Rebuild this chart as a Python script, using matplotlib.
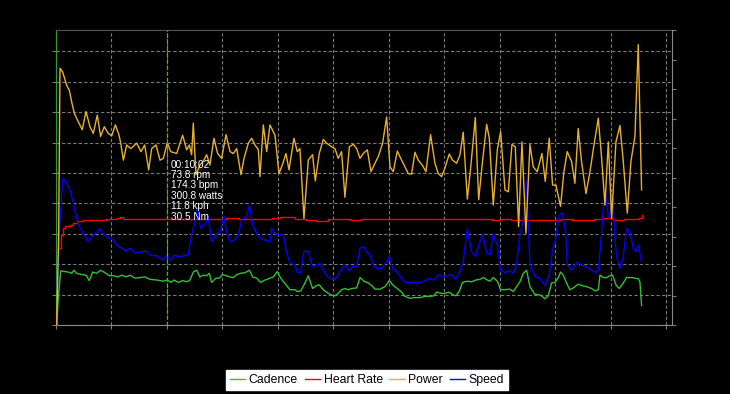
import matplotlib
matplotlib.use("Agg")
import matplotlib.pyplot as plt
from matplotlib.lines import Line2D

# time in minutes
power_t = [0.06, 0.24, 0.36, 0.60, 0.96, 1.20, 1.41, 1.65, 2.01, 2.37, 2.70, 3.06, 3.36, 3.72,
           4.02, 4.35, 4.71, 5.02, 5.35, 5.68, 5.83, 6.07, 6.37, 6.73, 7.27, 7.66, 7.99, 8.35,
           8.62, 9.01, 9.37, 9.67, 10.03, 10.33, 10.87, 11.41, 11.77, 12.01, 12.22, 12.37,
           12.61, 12.97, 13.27, 13.57, 13.87, 14.23, 14.56, 14.92, 15.32, 15.68, 15.98, 16.28,
           16.67, 16.94, 17.33, 17.63, 17.93, 18.23, 18.38, 18.68, 18.98, 19.28, 19.73, 20.09,
           20.39, 20.72, 20.99, 21.44, 21.74, 21.98, 22.34, 22.73, 23.12, 23.36, 23.72, 24.08,
           24.38, 24.83, 25.13, 25.43, 25.73, 26.03, 26.43, 26.79, 27.09, 27.39, 27.69, 28.05,
           28.38, 28.74, 29.04, 29.43, 29.79, 30.09, 30.39, 30.75, 31.14, 31.44, 31.74, 32.04,
           32.34, 32.64, 33.03, 33.33, 33.75, 34.14, 34.44, 34.74, 35.04, 35.43, 35.73, 36.09,
           36.39, 36.69, 37.06, 37.36, 37.78, 38.08, 38.44, 38.80, 39.04, 39.40, 39.76, 40.06,
           40.45, 40.75, 41.08, 41.38, 41.68, 41.98, 42.34, 42.70, 43.00, 43.36, 43.78, 44.08,
           44.44, 44.74, 45.04, 45.46, 45.76, 46.06, 46.45, 46.75, 47.05, 47.35, 47.75, 48.11,
           48.47, 48.86, 49.16, 49.46, 49.76, 50.06, 50.45, 50.81, 51.11, 51.47, 51.80, 52.16,
           52.46, 52.76]
power = [0, 148, 422, 416, 394, 386, 367, 348, 334, 321, 351, 326, 315, 345,
         310, 326, 315, 311, 329, 312, 299, 271, 296, 290, 299, 285, 296, 255,
         290, 296, 271, 274, 300, 285, 282, 312, 288, 296, 280, 332,
         247, 263, 269, 280, 263, 307, 282, 274, 313, 285, 282, 290,
         247, 274, 299, 307, 296, 288, 244, 329, 285, 329, 312, 249,
         263, 282, 255, 307, 285, 290, 175, 271, 280, 237, 282, 305,
         299, 293, 290, 274, 285, 210, 293, 297, 290, 274, 282, 288,
         252, 266, 277, 299, 342, 260, 252, 286, 271, 260, 249, 248,
         284, 271, 262, 252, 313, 266, 249, 244, 258, 281, 271, 266,
         279, 317, 207, 258, 341, 206, 271, 330, 307, 197, 288, 318,
         222, 219, 297, 293, 162, 301, 151, 297, 260, 252, 282, 236,
         307, 230, 230, 195, 252, 285, 269, 233, 323, 269, 216, 252,
         296, 340, 274, 197, 301, 175, 301, 328, 269, 184, 269, 310,
         461, 222]

hr_t = [0.30, 0.42, 0.60, 0.81, 1.26, 1.56, 1.86, 2.46, 3.5, 4.5, 5.47, 5.77, 6.07, 7.5, 9.0,
        10.03, 11.5, 13.0, 15.3, 16.5, 18.0, 19.5, 20.2, 21.5, 22.5, 23.4, 24.5, 25.5, 26.5,
        27.5, 28.5, 29.8, 30.5, 31.5, 33.0, 34.5, 35.5, 36.8, 37.5, 38.5, 39.3, 40.0, 41.0,
        42.0, 43.0, 44.5, 45.5, 46.5, 47.5, 48.5, 49.3, 50.2, 51.2, 52.0, 52.5, 52.76]
hr = [126, 148, 159, 162, 165, 167, 171, 172, 173, 174, 176, 177, 175, 175, 174.5,
      174.3, 174, 175, 176, 175, 175, 176, 177, 174, 173, 171, 174, 175, 173,
      174, 175, 175, 175, 174, 174, 175, 175, 174, 175, 174, 172, 174, 173,
      173, 172, 172, 175, 173, 173, 174, 176, 173, 174, 174, 176, 181]

speed_t = [0.12, 0.36, 0.60, 0.90, 1.32, 1.62, 2.01, 2.46, 2.91, 3.36, 3.72, 3.96, 4.26, 4.71,
           5.17, 5.47, 5.92, 6.31, 6.67, 7.12, 7.57, 8.17, 8.47, 9.07, 9.67, 10.03, 10.33,
           10.63, 11.17, 11.92, 12.22, 12.52, 12.73, 13.03, 13.42, 13.72, 14.02, 14.41, 14.77,
           15.13, 15.38, 15.68, 16.04, 16.43, 16.73, 17.18, 17.42, 17.72, 18.14, 18.44, 18.83,
           19.28, 19.43, 19.73, 20.03, 20.48, 20.78, 21.08, 21.53, 21.74, 22.04, 22.34, 22.73,
           23.12, 23.48, 23.78, 24.08, 24.44, 24.83, 25.13, 25.43, 25.88, 26.12, 26.43, 26.73,
           27.09, 27.39, 27.69, 28.05, 28.29, 28.59, 28.95, 29.34, 29.79, 30.03, 30.33, 30.69,
           31.14, 31.44, 31.74, 32.04, 32.34, 32.79, 33.24, 33.69, 34.05, 34.44, 34.89, 35.34,
           35.55, 36.03, 36.39, 36.69, 37.06, 37.45, 37.78, 38.14, 38.44, 38.80, 39.10, 39.40,
           39.76, 40.06, 40.45, 40.84, 41.20, 41.50, 41.80, 42.10, 42.40, 42.70, 43.15, 43.60,
           44.05, 44.44, 44.74, 45.04, 45.34, 45.64, 45.94, 46.06, 46.45, 46.75, 47.05, 47.35,
           47.80, 48.26, 48.56, 48.86, 49.07, 49.31, 49.55, 49.76, 49.97, 50.15, 50.36, 50.51,
           50.81, 51.11, 51.41, 51.71, 52.01, 52.25, 52.46, 52.76]
speed = [6.2, 17.5, 24.8, 24.3, 22.6, 20.1, 17.0, 15.5, 14.1, 15.3, 15.8, 16.3, 15.4, 14.7,
         14.4, 13.6, 13.0, 12.5, 13.0, 12.2, 12.4, 12.5, 11.9, 11.7, 11.0, 11.8, 10.9,
         11.8, 11.6, 11.9, 15.3, 17.5, 19.8, 16.4, 17.0, 18.4, 14.1, 15.3, 15.8,
         18.4, 15.8, 14.1, 14.4, 15.3, 17.8, 18.4, 20.3, 17.0, 15.3, 14.7, 14.4,
         14.1, 16.4, 15.5, 15.3, 15.3, 12.2, 10.5, 10.2, 8.9, 8.9, 12.5, 12.4,
         9.9, 10.2, 10.4, 9.3, 8.2, 7.8, 7.7, 8.5, 9.9, 10.1, 9.2, 9.9,
         9.9, 13.0, 13.3, 12.2, 11.9, 10.2, 9.5, 9.6, 10.7, 11.6, 9.6, 9.1,
         7.9, 7.2, 7.1, 7.3, 7.2, 7.2, 7.5, 7.9, 7.6, 8.5, 8.2, 8.4,
         8.6, 7.8, 9.0, 10.7, 16.3, 12.4, 11.6, 13.8, 15.4, 12.2, 11.9, 15.4,
         13.6, 9.2, 8.9, 9.2, 8.8, 10.2, 15.3, 17.8, 24.4, 10.3, 8.2, 7.9,
         6.7, 8.5, 12.7, 14.7, 18.6, 19.0, 15.3, 10.3, 9.3, 10.2, 10.7, 10.1,
         9.9, 9.3, 8.9, 9.3, 13.6, 19.8, 22.0, 18.2, 19.8, 22.6, 14.7, 11.6,
         9.6, 11.6, 16.4, 15.8, 13.0, 12.4, 13.6, 10.7]

cad_t = [0.06, 0.18, 0.42, 0.72, 1.11, 1.41, 1.62, 1.86, 2.31, 2.70, 3.00, 3.30, 3.66, 4.02,
         4.41, 4.80, 5.17, 5.62, 5.92, 6.31, 6.67, 7.12, 7.57, 8.02, 8.47, 9.07, 9.67, 10.03,
         10.33, 10.63, 11.02, 11.41, 11.77, 12.07, 12.37, 12.67, 12.97, 13.27, 13.57, 13.81,
         14.02, 14.41, 14.71, 15.01, 15.32, 15.68, 15.98, 16.28, 16.64, 17.03, 17.42, 17.72,
         18.08, 18.44, 18.83, 19.28, 19.58, 19.94, 20.24, 20.63, 21.08, 21.53, 21.74, 22.04,
         22.43, 22.73, 23.12, 23.48, 23.72, 24.08, 24.53, 24.83, 25.13, 25.43, 25.73, 26.03,
         26.34, 26.64, 27.09, 27.39, 27.75, 28.14, 28.44, 28.74, 29.19, 29.64, 30.03, 30.39,
         30.75, 31.14, 31.44, 31.89, 32.34, 32.79, 33.24, 33.69, 34.05, 34.29, 34.74, 35.04,
         35.43, 35.73, 36.03, 36.33, 36.63, 37.06, 37.45, 37.84, 38.20, 38.50, 38.86, 39.10,
         39.40, 39.76, 40.06, 40.45, 40.84, 41.20, 41.50, 41.80, 42.10, 42.40, 42.70, 43.15,
         43.45, 43.75, 44.05, 44.35, 44.65, 44.95, 45.25, 45.46, 45.70, 46.00, 46.30, 46.60,
         47.05, 47.35, 47.80, 48.26, 48.56, 48.86, 49.01, 49.31, 49.61, 49.91, 50.15, 50.45,
         50.75, 51.11, 51.41, 51.86, 52.16, 52.46, 52.61, 52.76]
cadence = [0, 38, 89, 88, 87, 85, 90, 85, 83, 82, 73, 87, 85, 90,
           86, 81, 81, 79, 82, 79, 82, 77, 78, 79, 75, 74, 72, 74,
           70, 74, 70, 73, 71, 74, 87, 90, 79, 82, 81, 85,
           70, 77, 77, 83, 81, 79, 78, 83, 85, 86, 90, 79,
           77, 70, 74, 77, 79, 88, 77, 68, 58, 58, 55, 56,
           69, 81, 60, 65, 66, 58, 52, 49, 48, 52, 58, 60,
           58, 60, 61, 78, 72, 69, 65, 59, 59, 63, 73, 65,
           60, 54, 47, 44, 45, 45, 47, 47, 48, 54, 52, 52,
           54, 50, 48, 55, 70, 72, 71, 74, 75, 78, 74, 72,
           78, 72, 58, 58, 59, 55, 63, 71, 85, 90, 63, 50,
           50, 48, 43, 48, 69, 70, 78, 87, 82, 69, 58, 61,
           67, 65, 63, 60, 56, 58, 82, 78, 78, 81, 82, 66,
           60, 69, 78, 78, 77, 76, 71, 32]

cursor_t = 10.03
cursor_text = "00:10:02\n73.8 rpm\n174.3 bpm\n300.8 watts\n11.8 kph\n30.5 Nm"

c_cad = "#33c033"
c_hr = "#ff0000"
c_pow = "#e8b030"
c_spd = "#0000ff"
grid_col = "#7a7a7a"

plt.rcParams["font.family"] = ["Liberation Sans", "DejaVu Sans"]

fig = plt.figure(figsize=(7.3, 3.94), dpi=100, facecolor="black")
ax = fig.add_axes([56 / 730, 69 / 394, 616 / 730, 295 / 394])
ax.set_facecolor("black")
ax.set_xlim(0, 55.5)
ax.set_ylim(0, 485)

ax.set_xticks(range(0, 56, 5))
ax.set_yticks(range(0, 451, 50))
ax.tick_params(axis="both", colors=grid_col, length=3, labelleft=False, labelbottom=False)
ax.grid(True, color=grid_col, linestyle=(0, (3, 2)), linewidth=0.8)

ax.spines["left"].set_color("#2e9a2e")
ax.spines["bottom"].set_color("#8a8a8a")
ax.spines["top"].set_color("#555555")
ax.spines["right"].set_visible(False)

ax.plot(hr_t, hr, color=c_hr, lw=1.0, drawstyle="steps-post")
ax.plot(cad_t, cadence, color=c_cad, lw=1.0)

ax2 = ax.twinx()
ax2.set_ylim(0, 50)
ax2.set_yticks(range(0, 51, 5))
ax2.tick_params(axis="y", colors=grid_col, length=3, labelright=False)
for s in ["left", "top", "bottom"]:
    ax2.spines[s].set_visible(False)
ax2.spines["right"].set_color("#8a8a8a")
ax2.plot(speed_t, speed, color=c_spd, lw=1.0)

# power drawn on top, in watts scale of main axis
ax3 = ax.twinx()
ax3.set_ylim(0, 485)
ax3.axis("off")
ax3.plot(power_t, power, color=c_pow, lw=1.0)

ax3.axvline(cursor_t, color=c_cad, lw=0.9, linestyle=(0, (3, 2)))
ax3.text(cursor_t + 0.3, 272, cursor_text, color="white", fontsize=7.2,
         va="top", ha="left", linespacing=1.05)

handles = [Line2D([], [], color=c_cad, lw=1.0),
           Line2D([], [], color=c_hr, lw=1.0),
           Line2D([], [], color=c_pow, lw=1.0),
           Line2D([], [], color=c_spd, lw=1.0)]
leg = fig.legend(handles, ["Cadence", "Heart Rate", "Power", "Speed"], ncol=4,
                 loc="center", bbox_to_anchor=(367 / 730, 14 / 394), fontsize=8.8,
                 frameon=True, fancybox=False, facecolor="white", edgecolor="white",
                 handlelength=1.25, handletextpad=0.3, columnspacing=0.55,
                 borderpad=0.3, borderaxespad=0, framealpha=1)

fig.savefig("out.png", dpi=100, facecolor="black")
